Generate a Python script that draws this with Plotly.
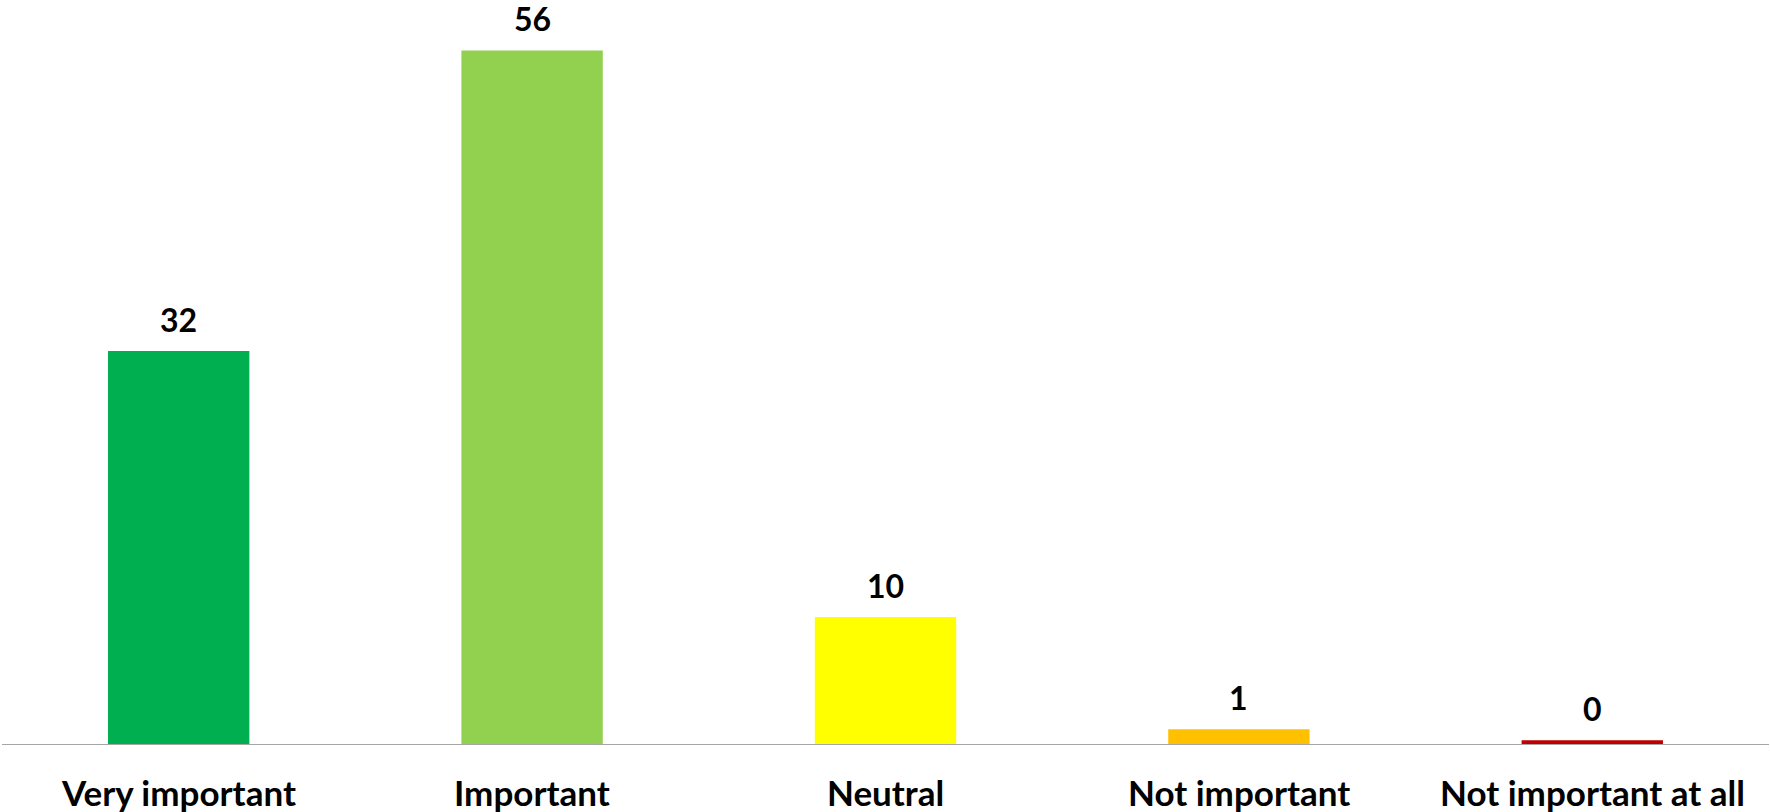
import plotly.graph_objects as go

categories = ["Very important", "Important", "Neutral", "Not important", "Not important at all"]
values = [31.9, 56.3, 10.3, 1.2, 0.3]
labels = ["32", "56", "10", "1", "0"]
colors = ["#00B050", "#92D050", "#FFFF00", "#FFC000", "#C00000"]

FONT = "Lato"

fig = go.Figure()
fig.add_trace(go.Bar(
    x=categories, y=values,
    marker=dict(color=colors, line=dict(width=0)),
    width=0.4,
    hoverinfo="skip",
))

for c, v, t in zip(categories, values, labels):
    fig.add_annotation(
        x=c, y=v, text=t, showarrow=False,
        yanchor="bottom", yshift=10,
        font=dict(family=FONT, size=32, color="#000000", weight="bold"),
    )

for c in categories:
    fig.add_annotation(
        x=c, y=0, yref="paper", text=c, showarrow=False,
        yanchor="middle", yshift=-48,
        font=dict(family=FONT, size=35, color="#000000", weight="bold"),
    )

fig.update_layout(
    width=1770, height=812,
    margin=dict(l=2, r=1, t=10, b=68),
    paper_bgcolor="white", plot_bgcolor="white",
    showlegend=False,
    bargap=0.6,
    xaxis=dict(
        showline=True, linecolor="#A6A6A6", linewidth=1,
        ticks="", showgrid=False, zeroline=False,
        showticklabels=False, automargin=False,
    ),
    yaxis=dict(
        range=[0, 734 / 12.32], visible=False, showgrid=False, zeroline=False,
        automargin=False,
    ),
)

fig.write_html(
    "out.html",
    config={"displayModeBar": False},
    post_script="document.body.style.margin='0';document.body.style.overflow='hidden';",
)
